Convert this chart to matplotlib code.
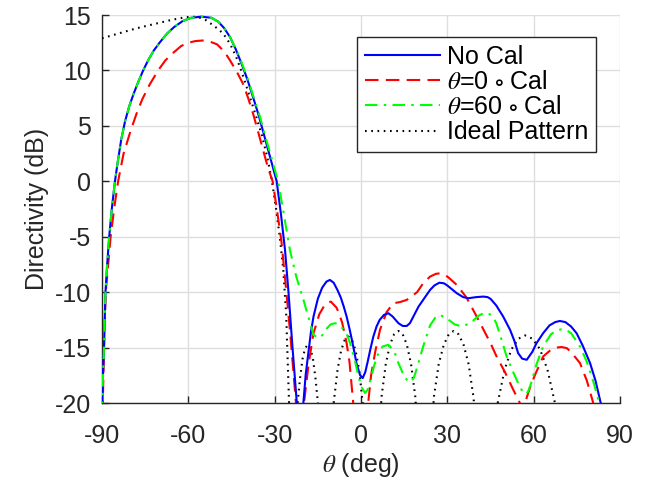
import matplotlib
matplotlib.use("Agg")
import matplotlib.pyplot as plt

plt.rcParams["font.family"] = ["Liberation Sans", "DejaVu Sans"]
plt.rcParams["mathtext.fontset"] = "stix"
plt.rcParams["axes.unicode_minus"] = False

# No Cal
theta_nocal = [-90, -89.6, -89.3, -88.8, -88.2, -87.5, -86.6, -85.5, -84.5, -83.3,
               -82, -80.5, -79, -77.5, -75.7, -74, -72, -70, -67.5, -65,
               -62, -59, -55.5, -52, -49.6, -47.5, -45.5, -43.5, -41.5, -39.5,
               -37.4, -35.5, -33.5, -31.6, -29.3, -27.8, -26.4, -25.2, -23.8, -22.3,
               -21.8, -21.2, -20.6, -20, -19.2, -18.3, -17.4, -16.5, -15, -13.5,
               -12, -10.8, -9.5, -8.2, -7, -6, -5, -4, -3, -1.5,
               -0.3, 0.6, 1.5, 2.3, 3.3, 4.3, 5.4, 6.5, 8, 9.5,
               11, 13, 14.5, 15.9, 17, 18, 20, 21.6, 24, 25.5,
               27.2, 28.8, 30, 33.3, 35.5, 37.3, 40, 42.5, 44, 45,
               47, 49.4, 51.8, 53.3, 54.6, 56, 57.6, 59.5, 61, 63.3,
               65.5, 67.5, 69.1, 71, 73, 74.9, 77, 79.6, 81.5, 83.3, 84]
dir_nocal = [-21, -17, -15, -10, -7.5, -5, -2.5, 0, 1.8, 3.8,
             5.4, 6.8, 7.9, 8.9, 10.0, 10.9, 11.8, 12.5, 13.3, 13.9,
             14.45, 14.75, 14.85, 14.75, 14.4, 13.8, 13.0, 11.9, 10.6, 9.2,
             7.5, 5.9, 4.0, 2.2, 0, -3, -6.2, -10, -15, -20,
             -24, -30, -24, -19.9, -17.4, -15.5, -13.6, -12.2, -10.6, -9.6,
             -9.05, -8.9, -9.15, -9.8, -10.5, -11.3, -12.2, -13.3, -14.5, -16.5,
             -17.5, -17.75, -17.2, -16.3, -15.1, -14.0, -13.1, -12.5, -12.05, -11.9,
             -12.2, -12.8, -13.05, -13.05, -12.8, -12.3, -11.3, -10.7, -9.8, -9.4,
             -9.15, -9.2, -9.4, -10.1, -10.45, -10.55, -10.45, -10.4, -10.45, -10.6,
             -11.2, -12.2, -13.4, -14.4, -15.5, -16.0, -16.1, -15.4, -14.6, -13.7,
             -13.0, -12.7, -12.6, -12.7, -13.1, -13.7, -14.8, -16.4, -18, -20, -21]

# theta = 0 deg Cal
theta_cal0 = [-89.8, -89.3, -88.7, -87, -85.8, -84.4, -82.5, -80, -78, -76,
              -73.5, -70.5, -68, -65.2, -62.5, -60, -57.5, -55, -52.5, -50,
              -47.5, -45.5, -43.2, -41, -39.2, -37.5, -36, -34, -32.3, -30.7,
              -29.2, -27.7, -26.3, -24.5, -22.6, -22, -21.2, -20.3, -19.8, -19,
              -18.2, -17.3, -16.5, -14.5, -12.5, -10.5, -8.5, -7.5, -6.5, -5,
              -4, -2.7, -1.5, 0, 1.5, 2.5, 3.5, 5, 6.6, 8.9,
              11.2, 13.5, 15.9, 18, 19.5, 21.6, 24, 26, 27.4, 29,
              30.5, 33.3, 36.7, 40.2, 43, 45, 47.1, 50, 52.9, 55.2,
              56.5, 57.6, 59, 60.5, 63.3, 66, 68, 69.7, 71.5, 73,
              76.1, 78.5, 80.7, 81.5]
dir_cal0 = [-21, -15, -10, -5, -2.5, 0, 2.5, 4.6, 6.1, 7.4,
            8.7, 10, 10.9, 11.6, 12.2, 12.5, 12.65, 12.7, 12.6, 12.35,
            11.7, 10.9, 9.9, 8.8, 7.5, 6.1, 4.7, 2.8, 1.2, 0,
            -2.6, -5.3, -9, -14, -20, -24, -30, -24, -20, -18.2,
            -16.5, -15, -13.7, -12, -11.1, -10.85, -11.4, -12.0, -12.8, -14.6,
            -16.3, -20, -24, -32, -24, -20, -17.5, -15.3, -13.4, -11.8,
            -11.0, -10.9, -10.7, -10.3, -10, -9.2, -8.6, -8.35, -8.3, -8.4,
            -8.7, -9.35, -10.5, -12.2, -13.6, -14.6, -15.8, -17.2, -18.8, -20,
            -20.6, -19.5, -18.4, -17.45, -15.8, -15.2, -15.0, -14.95, -15.05, -15.4,
            -16.4, -18, -20, -22]

# theta = 60 deg Cal
theta_cal60 = [-90, -89.6, -89.3, -88.8, -88.2, -87.5, -86.6, -85.5, -84.5, -83.3,
               -82, -80.5, -79, -77.5, -75.7, -74, -72, -70, -67.5, -65,
               -62, -59, -55.5, -52, -49.6, -47.5, -45.5, -43.4, -41.3, -39.3,
               -37.2, -35.2, -33.2, -31.2, -28.8, -26.8, -24.7, -22.5, -20, -18,
               -16.5, -14.8, -13.5, -12, -10.5, -9, -7.5, -6, -4.8, -3.8,
               -2, -0.9, 0.3, 1.4, 2.3, 3.3, 4.4, 5.5, 7.5, 9.5,
               11.5, 13, 15, 16.2, 17.3, 18.4, 19.5, 21.6, 24, 25.8,
               27.4, 30, 32.5, 35, 38, 41, 42.7, 44.2, 45.8, 47,
               48.5, 50.6, 52.5, 54.6, 56, 57, 58, 59, 61, 63.3,
               66, 68, 69.7, 71.5, 73, 76.1, 78.5, 81, 82.8, 83.5]
dir_cal60 = [-21, -17, -15, -10, -7.5, -5, -2.5, 0, 1.8, 3.8,
             5.4, 6.8, 7.9, 8.9, 10.0, 10.9, 11.8, 12.5, 13.3, 13.9,
             14.45, 14.75, 14.85, 14.75, 14.4, 13.8, 13.0, 11.9, 10.6, 9.2,
             7.5, 5.9, 4.0, 2.2, 0, -3, -6.2, -8.6, -10.7, -12.5,
             -13.85, -14.15, -13.9, -13.3, -12.9, -12.8, -12.95, -13.4, -13.9, -14.6,
             -16.3, -17.6, -18.6, -19.1, -18.8, -17.9, -16.8, -15.8, -14.9, -14.75,
             -15.3, -16.4, -17.6, -18.0, -18.1, -17.7, -16.8, -14.9, -13, -12.3,
             -12.05, -12.4, -12.9, -13.1, -12.8, -12.1, -11.9, -11.9, -12.2, -12.8,
             -14, -15.8, -17, -18.2, -18.9, -19.2, -19.0, -18.3, -16.5, -14.9,
             -13.8, -13.45, -13.35, -13.45, -13.7, -14.9, -16.3, -18.3, -20, -21]

# Ideal pattern
theta_ideal = [-90, -86, -82, -78, -74, -70, -66, -62, -59, -56.5,
               -54, -51.5, -49.5, -47.8, -45.5, -43.5, -41.5, -38.6, -36.5, -34.5,
               -32.5, -31, -29.5, -28.1, -27, -26, -25, -24.2,
               -23.5, -22.2, -21.2, -20.3, -19.4, -18.5, -17.6, -16.7, -15.8, -14.8, -13.5,
               -11.5, -9.5, -8.15, -6.9, -5.65, -4.4, -3.15, -1.9, -0.65, 0.6, 2.3,
               5, 7.1, 8.6, 10.05, 11.5, 13, 14.5, 15.95, 17.4, 18.9, 21.2,
               23.3, 25.3, 27.0, 28.75, 30.5, 32.2, 33.9, 35.65, 37.4, 39.1, 42.5,
               44.5, 47.5, 49.9, 52.3, 54.7, 57, 59.6, 62.2, 64.8, 67.4, 71]
dir_ideal = [12.9, 13.2, 13.5, 13.8, 14.05, 14.3, 14.55, 14.75, 14.85, 14.8,
             14.55, 14.1, 13.7, 13.3, 12.4, 11.3, 9.9, 7.6, 5.9, 4.2,
             2.1, 0.1, -2.5, -5.3, -8, -12, -20, -30,
             -30, -20.5, -17.8, -16.0, -15.05, -14.75, -15.05, -16.0, -17.8, -20.5, -30,
             -30, -20, -17, -15.25, -14.3, -14.0, -14.3, -15.25, -17, -20, -30,
             -30, -19.5, -16.5, -14.75, -13.8, -13.5, -13.8, -14.75, -16.5, -19.5, -30,
             -30, -19.5, -16.5, -14.75, -13.8, -13.5, -13.8, -14.75, -16.5, -19.5, -30,
             -30, -20, -17, -15.15, -14.2, -13.9, -14.2, -15.15, -17, -20, -30]

fig = plt.figure(figsize=(6.52, 4.83), dpi=100)
ax = fig.add_axes([102 / 652, 80 / 483, 518 / 652, 388 / 483])

ax.plot(theta_nocal, dir_nocal, color="#0000ff", lw=1.5, label="No Cal", zorder=5)
ax.plot(theta_cal0, dir_cal0, color="#ff0000", lw=1.5, ls=(0, (6.5, 3.5)),
        label=r"$\theta$=0$\,\circ\,$Cal", zorder=4)
ax.plot(theta_cal60, dir_cal60, color="#00ff00", lw=1.5, ls=(0, (6, 3, 1.2, 3)),
        label=r"$\theta$=60$\,\circ\,$Cal", zorder=6)
ax.plot(theta_ideal, dir_ideal, color="black", lw=1.5, ls=(0, (0.8, 2.2)),
        label="Ideal Pattern", zorder=3)

ax.set_xlim(-90, 90)
ax.set_ylim(-20, 15)
ax.set_xticks(range(-90, 91, 30))
ax.set_yticks(range(-20, 16, 5))

ax.spines["top"].set_visible(False)
ax.spines["right"].set_visible(False)
for s in ["left", "bottom"]:
    ax.spines[s].set_color("#262626")
    ax.spines[s].set_linewidth(1.0)

ax.grid(True, color="#dedede", lw=1.0)
ax.set_axisbelow(True)
ax.tick_params(axis="both", direction="in", length=5, width=1.0, color="#262626",
               labelcolor="#262626", labelsize=18)
ax.tick_params(axis="x", pad=15)
ax.tick_params(axis="y", pad=8)

ax.set_xlabel(r"$\theta$ (deg)", fontsize=18, color="#262626", labelpad=2)
ax.set_ylabel("Directivity (dB)", fontsize=18, color="#262626", labelpad=4)

leg = ax.legend(loc="upper right", bbox_to_anchor=(596 / 652, 1 - 37 / 483),
                bbox_transform=fig.transFigure, fontsize=18, frameon=True,
                fancybox=False, framealpha=1, edgecolor="#262626",
                borderaxespad=0, borderpad=0.3, labelspacing=0.05,
                handlelength=3.0, handletextpad=0.3)
leg.get_frame().set_linewidth(1.0)

fig.savefig("out.png", dpi=100)
